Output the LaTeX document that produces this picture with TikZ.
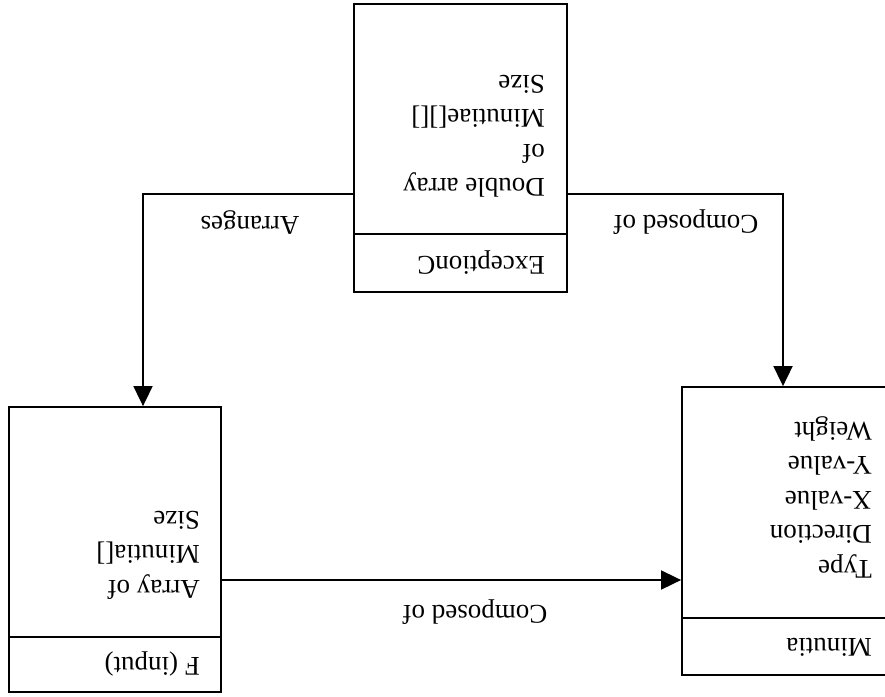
\documentclass[tikz,border=0pt]{standalone}
\usepackage{fontspec}
\setmainfont{Liberation Serif}
\usetikzlibrary{arrows.meta}

\begin{document}
\begin{tikzpicture}[x=1pt,y=-1pt,
    classbox/.style={draw, line width=1.8pt, inner sep=0pt, rectangle},
    txt/.style={rotate=180, inner sep=0pt, align=left,
                font=\fontsize{27}{34.5}\selectfont},
    arr/.style={line width=1.8pt, -{Triangle[length=20pt,width=19pt]}},
    divider/.style={line width=1.8pt}]

  % page frame
  \path[use as bounding box, clip] (0,0) rectangle (885,696);

  % helper rows and columns
  \coordinate (hTop) at (0,194);
  \coordinate (hMid) at (0,580);
  \coordinate (colL) at (143,0);
  \coordinate (colR) at (783,0);
  \coordinate (divA) at (0,234);
  \coordinate (divB) at (0,637);
  \coordinate (divC) at (0,618);

  % class boxes
  \node[classbox, minimum width=213pt, minimum height=288pt] (exc) at (460.5,148) {};
  \node[classbox, minimum width=212pt, minimum height=285pt] (fin) at (115,549.5) {};
  \node[classbox, minimum width=211pt, minimum height=288pt] (min) at (787.5,531) {};

  % compartment dividers
  \draw[divider] (exc.west |- divA) -- (exc.east |- divA);
  \draw[divider] (fin.west |- divB) -- (fin.east |- divB);
  \draw[divider] (min.west |- divC) -- (min.east |- divC);

  % compartment texts
  \node[txt, anchor=west] (excBody) at (545,136) {Double array\\of\\Minutiae[][]\\Size};
  \node[txt, anchor=west] (excHead) at (545,263) {ExceptionC};
  \node[txt, anchor=west] (finBody) at (200,555) {Array of\\Minutia[]\\Size};
  \node[txt, anchor=west] (finHead) at (200,664) {F (input)};
  \node[txt, anchor=west] (minBody) at (872,497) {Type\\Direction\\X-value\\Y-value\\Weight};
  \node[txt, anchor=west] (minHead) at (872,647) {Minutia};

  % associations
  \draw[arr] (exc.west |- hTop) -| (fin.north -| colL);
  \draw[arr] (exc.east |- hTop) -| (min.north -| colR);
  \draw[arr] (fin.east |- hMid) -- (min.west |- hMid);

  % association labels
  \node[txt] (lblArr) at (250,222) {Arranges};
  \node[txt] (lblCompA) at (686,222) {Composed of};
  \node[txt] (lblCompB) at (475,612) {Composed of};
\end{tikzpicture}
\end{document}
